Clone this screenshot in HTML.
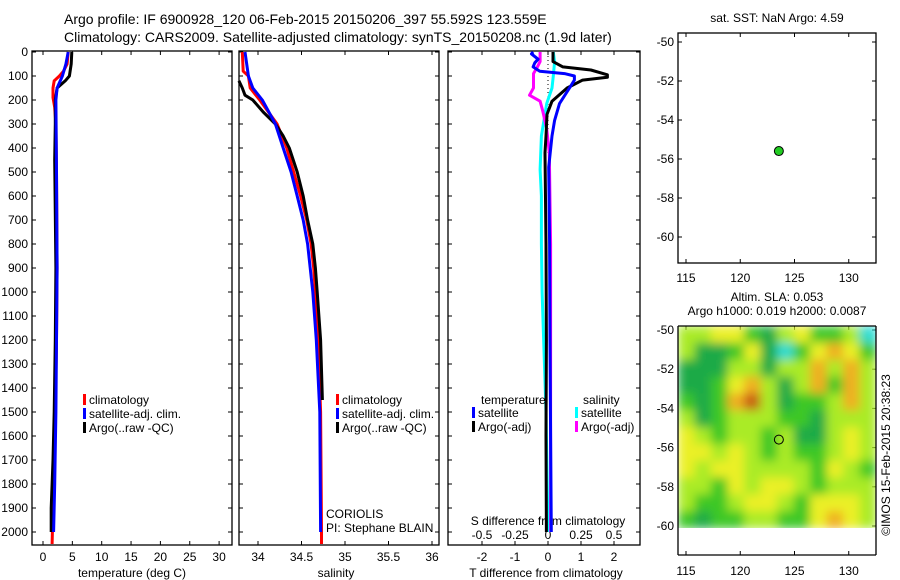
<!DOCTYPE html>
<html><head><meta charset="utf-8"><style>
body{margin:0;background:#fff;}
svg{display:block;font-family:"Liberation Sans",sans-serif;}
text{fill:#000;}
</style></head><body>
<svg id="chart" width="900" height="580" viewBox="0 0 900 580">
<defs>
<filter id="blur" x="0" y="0" width="1" height="1"><feGaussianBlur stdDeviation="5" edgeMode="duplicate"/></filter>
<clipPath id="mapclip"><rect x="678" y="326" width="198" height="202"/></clipPath>
</defs>
<text x="64" y="24" font-size="14">Argo profile: IF 6900928_120 06-Feb-2015 20150206_397 55.592S 123.559E</text>
<text x="64" y="42" font-size="14">Climatology: CARS2009. Satellite-adjusted climatology: synTS_20150208.nc (1.9d later)</text>
<g id="g"></g>
</svg>
<script>
// ---- data ----
const depthTicks=[0,100,200,300,400,500,600,700,800,900,1000,1100,1200,1300,1400,1500,1600,1700,1800,1900,2000];
const tempTicks=[0,5,10,15,20,25,30];
const salTicks=[34,34.5,35,35.5,36];
const salTickLabels=["34","34.5","35","35.5","36"];
const dTTicks=[-2,-1,0,1,2];
const dSTicks=[-0.5,-0.25,0,0.25,0.5];
const dSTickLabels=["-0.5","-0.25","0","0.25","0.5"];
const lonTicks=[115,120,125,130];
const latTicks=[-50,-52,-54,-56,-58,-60];
// temperature profiles [depth, value]
const tClimD=[0,50,80,100,120,150,190,230,300,500,900,1200,1500,1800,2000,2050];
const tClimV=[4.3,4.1,3.5,2.8,1.9,1.7,1.7,2.0,2.2,2.3,2.4,2.3,2.1,1.8,1.6,1.55];
const tSatD=[0,50,100,150,200,500,900,1200,1500,1650,1800,2000];
const tSatV=[4.3,3.9,3.3,2.4,2.2,2.3,2.4,2.3,2.2,2.1,2.0,1.8];
const tArgoD=[0,50,100,120,150,200,300,450,900,1200,1500,1700,1900,2000];
const tArgoV=[4.9,4.8,4.5,3.8,2.4,2.1,2.1,2.0,2.2,2.1,1.9,1.7,1.4,1.4];
// salinity profiles
const sClimD=[0,80,100,150,200,250,300,400,500,600,700,800,900,1000,1200,1500,2000,2050];
const sClimV=[33.82,33.83,33.89,33.91,34.02,34.12,34.22,34.33,34.41,34.49,34.56,34.61,34.64,34.66,34.69,34.72,34.73,34.73];
const sSatD=[0,100,150,200,300,400,500,600,700,800,900,1000,1200,1500,2000];
const sSatV=[33.85,33.89,33.94,34.05,34.2,34.29,34.38,34.45,34.52,34.57,34.6,34.63,34.67,34.71,34.72];
const sArgoD=[120,150,180,200,250,300,350,400,500,600,700,800,900,1000,1200,1450];
const sArgoV=[33.78,33.82,33.85,33.94,34.06,34.2,34.29,34.36,34.45,34.52,34.57,34.63,34.66,34.68,34.72,34.74];
// differences
const dTArgoD=[0,40,62,75,95,105,117,150,205,260,350,420,800,1200,1600,2000];
const dTArgoV=[0.15,0.15,0.45,1.3,1.8,1.8,1.05,0.58,0.12,-0.03,-0.06,-0.09,-0.06,-0.05,-0.06,-0.05];
const dTSatD=[0,8,30,45,62,80,90,100,117,150,215,285,350,480,800,1200,1600,2000];
const dTSatV=[-0.45,-0.5,-0.3,-0.4,-0.45,-0.25,0.5,0.8,0.8,0.65,0.35,0.2,0.12,0.02,0.05,0.06,0.08,0.1];
const dSArgoD=[0,40,62,90,150,180,205,245,320,420,800,1200,1600,2000];
const dSArgoV=[-0.06,-0.06,-0.08,-0.11,-0.11,-0.14,-0.06,-0.04,-0.01,0.01,0.02,0.02,0.02,0.02];
const dSSatD=[0,40,100,150,215,350,490,600,800,1000,1500,2000];
const dSSatV=[0.04,0.05,0.04,0.03,-0.01,-0.05,-0.06,-0.05,-0.05,-0.045,-0.015,0.0];
// float position
const floatLon=[123.559];
const floatLat=[-55.592];
// SLA grid (12x12 rows north->south)
const slaGrid=[
[0.3,0.3,0.5,0.5,0,-0.5,0.3,0.5,0,0,0.3,-1],
[0.3,-0.5,-0.5,0,0.5,-0.5,-1,0,0.5,0.8,0.5,0],
[-0.5,-0.5,-0.5,0.3,0.3,-0.5,0.3,0.3,0.8,0.3,0.8,0.3],
[-0.5,-0.5,0,0.5,0.8,0.3,-0.5,0.3,0.8,0,0.8,0.3],
[0,-0.5,0,0.8,1,0.3,-0.5,0,0,0.3,0.8,0.3],
[0.3,-0.5,0,0.3,0.3,0.3,0,0,-0.5,0.3,0.3,0.3],
[0.5,0.3,0,0.3,0.3,0,0.3,-0.5,-0.5,0.3,0.5,0.3],
[0.5,0.5,0.3,0.5,0.3,0,0.3,0,0,0.3,0.5,0.3],
[0.5,0.3,0.5,0.5,0.3,0.3,0.3,0.3,0,0.5,0.3,0],
[0.3,0.3,0,0.5,0.3,0.5,0.5,0.3,0,0.3,0.3,0.3],
[0.3,0,0,0.3,0.5,0.5,0.3,0,0.5,0.5,0.5,0.3],
[0,-0.5,0,0,0.3,0.3,0,0,0.5,0.8,0.5,0.3]];

// ---- scales ----
const NS="http://www.w3.org/2000/svg";
const G=document.getElementById('g');
function el(tag,attrs,parent){const e=document.createElementNS(NS,tag);for(const k in attrs)e.setAttribute(k,attrs[k]);(parent||G).appendChild(e);return e;}
const yD=d=>52+d*0.24;
const xT=t=>43+t*5.87;
const xS=s=>258+(s-34)*87;
const xdT=t=>548+t*33;
const xdS=s=>548+s*132;
const xLon=l=>686+(l-115)*10.85;
const yLat=l=>42+(-50-l)*19.5;
const yLat2=l=>330+(-50-l)*19.6;

function axesBox(x0,x1,name){
  const r=el('rect',{x:x0,y:51,width:x1-x0,height:494,fill:'none',stroke:'#000','stroke-width':1.3});
  
  
}
function line(D,V,xf,color,name,w){
  const pts=D.map((d,i)=>xf(V[i]).toFixed(1)+','+yD(d).toFixed(1)).join(' ');
  const p=el('polyline',{points:pts,fill:'none',stroke:color,'stroke-width':w||3,'stroke-linejoin':'round'});
  
  
}
function txt(x,y,s,opts){const t=el('text',Object.assign({x:x,y:y,'font-size':12},opts||{}));t.textContent=s;return t;}

// panel boxes
axesBox(32,232,'temperature-axes');
axesBox(239,439,'salinity-axes');
axesBox(448,640,'difference-axes');

// depth ticks & labels
depthTicks.forEach(d=>{
  [[32,1],[232,-1],[239,1],[439,-1],[448,1],[640,-1]].forEach(([x,s])=>el('line',{x1:x,x2:x+4*s,y1:yD(d),y2:yD(d),stroke:'#000'}));
  const t=txt(28,yD(d)+4,String(d),{'text-anchor':'end'});
  
  
});
tempTicks.forEach(v=>{
  el('line',{x1:xT(v),x2:xT(v),y1:545,y2:541,stroke:'#000'});
  el('line',{x1:xT(v),x2:xT(v),y1:51,y2:55,stroke:'#000'});
  const t=txt(xT(v),561,String(v),{'text-anchor':'middle'});
  
  
});
salTicks.forEach((v,i)=>{
  el('line',{x1:xS(v),x2:xS(v),y1:545,y2:541,stroke:'#000'});
  el('line',{x1:xS(v),x2:xS(v),y1:51,y2:55,stroke:'#000'});
  const t=txt(xS(v),561,salTickLabels[i],{'text-anchor':'middle'});
  
  
});
dTTicks.forEach(v=>{
  el('line',{x1:xdT(v),x2:xdT(v),y1:545,y2:541,stroke:'#000'});
  el('line',{x1:xdT(v),x2:xdT(v),y1:51,y2:55,stroke:'#000'});
  const t=txt(xdT(v),561,String(v),{'text-anchor':'middle'});
  
  
});
dSTicks.forEach((v,i)=>{
  const t=txt(xdS(v),539,dSTickLabels[i],{'text-anchor':'middle'});
  
  
});
let t;
t=txt(132,577,'temperature (deg C)',{'text-anchor':'middle'});
t=txt(336,577,'salinity',{'text-anchor':'middle'});
t=txt(546,577,'T difference from climatology',{'text-anchor':'middle'});
t=txt(548,525,'S difference from climatology',{'text-anchor':'middle'});

// profiles
line(tClimD,tClimV,xT,'#f00','temp-climatology-line');
line(tArgoD,tArgoV,xT,'#000','temp-argo-line');
line(tSatD,tSatV,xT,'#00f','temp-satellite-line');
line(sClimD,sClimV,xS,'#f00','sal-climatology-line');
line(sArgoD,sArgoV,xS,'#000','sal-argo-line');
line(sSatD,sSatV,xS,'#00f','sal-satellite-line');
const z=el('line',{x1:xdT(0),x2:xdT(0),y1:52,y2:yD(420),stroke:'#000','stroke-dasharray':'1,3'});

line(dSSatD,dSSatV,xdS,'#0ff','sdiff-satellite-line');
line(dSArgoD,dSArgoV,xdS,'#f0f','sdiff-argo-line');
line(dTArgoD,dTArgoV,xdT,'#000','tdiff-argo-line');
line(dTSatD,dTSatV,xdT,'#00f','tdiff-satellite-line');

// legends
function legItem(x,y,color,label,name){
  const r=el('rect',{x:x,y:y-10,width:3,height:11,fill:color});
  
  const tt=txt(x+6,y,label);
}
[[83,'#f00','climatology'],[83,'#00f','satellite-adj. clim.'],[83,'#000','Argo(..raw -QC)']].forEach((a,i)=>legItem(a[0],404+i*14,a[1],a[2],'temp-legend-entry'));
[[336,'#f00','climatology'],[336,'#00f','satellite-adj. clim.'],[336,'#000','Argo(..raw -QC)']].forEach((a,i)=>legItem(a[0],404+i*14,a[1],a[2],'sal-legend-entry'));
t=txt(481,404,'temperature');
t=txt(583,404,'salinity');
legItem(472,417,'#00f','satellite','diff-legend-entry');
legItem(472,431,'#000','Argo(-adj)','diff-legend-entry');
legItem(575,417,'#0ff','satellite','diff-legend-entry');
legItem(575,431,'#f0f','Argo(-adj)','diff-legend-entry');
t=txt(326,518,'CORIOLIS');
t=txt(326,532,'PI: Stephane BLAIN');

// map panel 1
const m1=el('rect',{x:678,y:33,width:198,height:230,fill:'none',stroke:'#000','stroke-width':1.3});

t=txt(777,22,'sat. SST: NaN Argo: 4.59',{'text-anchor':'middle'});
lonTicks.forEach(v=>{
  el('line',{x1:xLon(v),x2:xLon(v),y1:263,y2:259,stroke:'#000'});
  el('line',{x1:xLon(v),x2:xLon(v),y1:33,y2:37,stroke:'#000'});
  const a=txt(xLon(v),282,String(v),{'text-anchor':'middle'});
  el('line',{x1:xLon(v),x2:xLon(v),y1:555,y2:551,stroke:'#000'});
  el('line',{x1:xLon(v),x2:xLon(v),y1:326,y2:330,stroke:'#000'});
  const b=txt(xLon(v),575,String(v),{'text-anchor':'middle'});
});
latTicks.forEach(v=>{
  el('line',{x1:678,x2:682,y1:yLat(v),y2:yLat(v),stroke:'#000'});
  el('line',{x1:876,x2:872,y1:yLat(v),y2:yLat(v),stroke:'#000'});
  const a=txt(674,yLat(v)+4,String(v),{'text-anchor':'end'});
  el('line',{x1:876,x2:872,y1:yLat2(v),y2:yLat2(v),stroke:'#000'});
  const b=txt(674,yLat2(v)+4,String(v),{'text-anchor':'end'});
});
const dot=el('circle',{cx:xLon(floatLon[0]),cy:yLat(floatLat[0]),r:4.5,fill:'#2c2',stroke:'#000','stroke-width':1});


// map panel 2 - SLA heatmap
t=txt(777,301,'Altim. SLA: 0.053',{'text-anchor':'middle'});
t=txt(777,315,'Argo h1000: 0.019 h2000: 0.0087',{'text-anchor':'middle'});
function cmap(v){
  const stops=[[-1,[40,220,210]],[-0.5,[30,170,70]],[0,[60,200,40]],[0.3,[170,235,40]],[0.5,[235,240,40]],[0.8,[240,175,35]],[1,[200,90,20]]];
  for(let i=1;i<stops.length;i++){if(v<=stops[i][0]){const a=stops[i-1],b=stops[i];const f=(v-a[0])/(b[0]-a[0]);return 'rgb('+a[1].map((c,k)=>Math.round(c+(b[1][k]-c)*f)).join(',')+')';}}
  return 'rgb(200,90,20)';
}
const hm=el('g',{'clip-path':'url(#mapclip)'});

const hmInner=el('g',{filter:'url(#blur)'},hm);
const nr=slaGrid.length,nc=slaGrid[0].length,cw=198/nc,ch=202/nr;
slaGrid.forEach((row,r)=>row.forEach((v,c)=>{
  const cell=el('rect',{x:678+c*cw,y:326+r*ch,width:cw+0.5,height:ch+0.5,fill:cmap(v)},hmInner);
  
  
}));
el('line',{x1:678,x2:678,y1:326,y2:555,stroke:'#000','stroke-width':1.3});
el('line',{x1:876,x2:876,y1:326,y2:555,stroke:'#000','stroke-width':1.3});
el('line',{x1:678,x2:876,y1:326,y2:326,stroke:'#000','stroke-width':1.3});
el('line',{x1:678,x2:876,y1:555,y2:555,stroke:'#000','stroke-width':1.3});
const ring=el('circle',{cx:xLon(floatLon[0]),cy:yLat2(floatLat[0]),r:4.5,fill:'none',stroke:'#000','stroke-width':1});

t=txt(0,0,'©IMOS 15-Feb-2015 20:38:23',{'text-anchor':'middle',transform:'translate(890,455) rotate(-90)'});

</script>
</body></html>
